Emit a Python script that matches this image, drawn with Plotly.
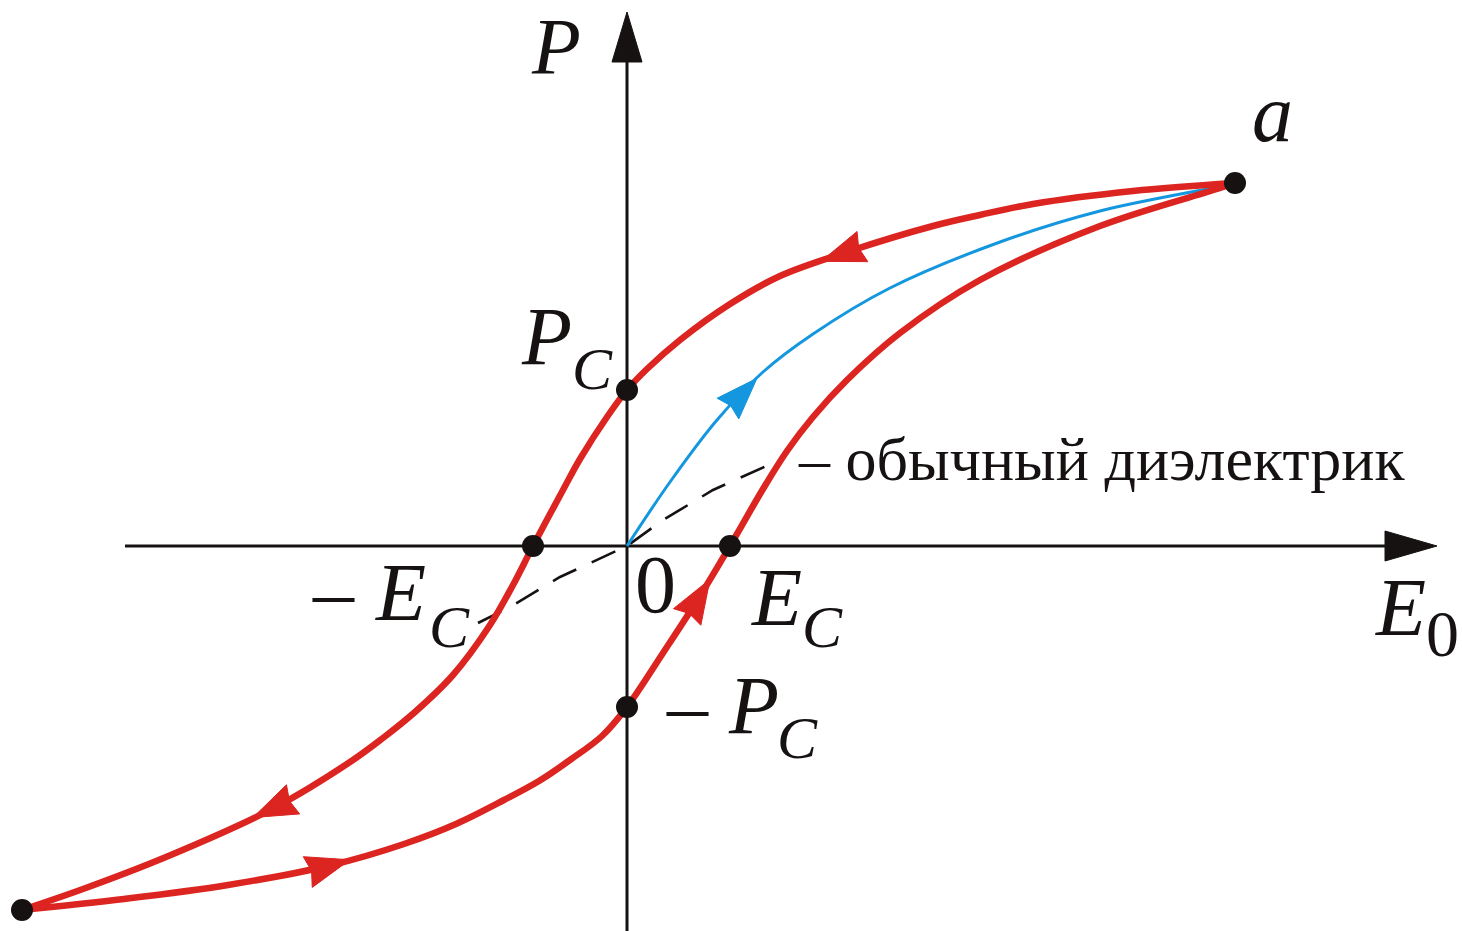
import numpy as np
import plotly.graph_objects as go

# ---------------- data (E and P in arbitrary units) ----------------
# descending branch: from point a down to the lower-left saturation point
E_down = [6.08, 5.06, 4.06, 3.53, 3.06, 2.23, 1.53, 1.03, 0.53, 0.20, 0.00, -0.20, -0.47, -0.64,
          -0.94, -1.14, -1.37, -1.74, -2.12, -2.44, -2.74, -3.53, -4.61, -5.44, -6.05]
P_down = [3.63, 3.55, 3.42, 3.31, 3.20, 2.95, 2.70, 2.42, 2.06, 1.77, 1.56, 1.29, 0.87, 0.56,
          0.00, -0.39, -0.79, -1.29, -1.66, -1.92, -2.14, -2.62, -3.11, -3.43, -3.64]
# ascending branch: from the lower-left point back up to a
E_up = [-6.05, -5.03, -3.99, -2.95, -2.23, -1.71, -1.23, -0.88, -0.57, -0.25, 0.00, 0.36, 0.73,
        1.03, 1.36, 1.60, 1.86, 2.20, 2.73, 3.53, 4.73, 5.90, 6.08]
P_up = [-3.64, -3.53, -3.39, -3.19, -2.98, -2.78, -2.54, -2.35, -2.14, -1.90, -1.61, -1.07, -0.50,
        0.00, 0.57, 0.95, 1.29, 1.66, 2.13, 2.66, 3.20, 3.57, 3.63]
# initial polarisation curve (blue)
E_init = [0.00, 0.43, 0.90, 1.36, 1.86, 2.63, 3.73, 4.73, 5.90, 6.08]
P_init = [0.00, 0.64, 1.26, 1.74, 2.12, 2.58, 3.04, 3.35, 3.59, 3.63]
# ordinary dielectric (dashed)
E_lin = [-1.49, -1.17, -0.67, 0.00, 0.36, 0.86, 1.46]
P_lin = [-0.77, -0.61, -0.31, 0.00, 0.26, 0.56, 0.83]

# marked points: a, lower-left end, Pc, -Pc, Ec, -Ec
pt_E = [6.08, -6.05, 0.00, 0.00, 1.03, -0.94]
pt_P = [3.63, -3.64, 1.56, -1.61, 0.00, 0.00]

# direction arrows: E position of arrow tip on each curve
arrow_down_E = [1.94, -3.74]
arrow_up_E = [-2.77, 0.83]
arrow_init_E = [1.30]

RED = '#dc2420'
BLUE = '#1497de'
BLACK = '#161212'
FONT = 'Liberation Serif'

X_RANGE = [-6.27, 8.35]
Y_RANGE = [-3.85, 5.46]


def curve_P(E, P, e):
    E = np.asarray(E, float)
    P = np.asarray(P, float)
    order = np.argsort(E)
    return float(np.interp(e, E[order], P[order]))


def head_path(tip, back, L, W, notch):
    tx, ty = tip
    bx, by = back
    ux, uy = tx - bx, ty - by
    n = np.hypot(ux, uy)
    ux, uy = ux / n, uy / n
    nx, ny = -uy, ux
    cx, cy = tx - L * ux, ty - L * uy
    c1 = (cx + W / 2 * nx, cy + W / 2 * ny)
    c2 = (cx - W / 2 * nx, cy - W / 2 * ny)
    m = (tx - (L - notch) * ux, ty - (L - notch) * uy)
    return (f"M{tx:.4f},{ty:.4f} L{c1[0]:.4f},{c1[1]:.4f} L{m[0]:.4f},{m[1]:.4f} "
            f"L{c2[0]:.4f},{c2[1]:.4f} Z")


fig = go.Figure()

fig.add_trace(go.Scatter(x=E_lin, y=P_lin, mode='lines',
                         line=dict(color=BLACK, width=2.6, dash='26px,17px'), hoverinfo='skip'))
fig.add_trace(go.Scatter(x=E_init, y=P_init, mode='lines',
                         line=dict(color=BLUE, width=3, shape='spline', smoothing=1.0), hoverinfo='skip'))
fig.add_trace(go.Scatter(x=E_down, y=P_down, mode='lines',
                         line=dict(color=RED, width=6.5, shape='spline', smoothing=1.0), hoverinfo='skip'))
fig.add_trace(go.Scatter(x=E_up, y=P_up, mode='lines',
                         line=dict(color=RED, width=6.5, shape='spline', smoothing=1.0), hoverinfo='skip'))
fig.add_trace(go.Scatter(x=pt_E, y=pt_P, mode='markers',
                         marker=dict(color=BLACK, size=22), hoverinfo='skip'))

shapes = []
# axes
x_tip, y_tip = 8.10, 5.34
shapes.append(dict(type='line', x0=-5.02, y0=0, x1=x_tip - 0.45, y1=0, layer='below',
                   line=dict(color=BLACK, width=3)))
shapes.append(dict(type='line', x0=0, y0=Y_RANGE[0], x1=0, y1=y_tip - 0.45, layer='below',
                   line=dict(color=BLACK, width=3)))
shapes.append(dict(type='path', path=head_path((x_tip, 0), (x_tip - 1, 0), 0.52, 0.30, 0.0),
                   fillcolor=BLACK, line=dict(color=BLACK, width=1), layer='above'))
shapes.append(dict(type='path', path=head_path((0, y_tip), (0, y_tip - 1), 0.50, 0.30, 0.0),
                   fillcolor=BLACK, line=dict(color=BLACK, width=1), layer='above'))

# direction arrowheads along the curves
for E, P, tips, sgn, col, L, W in [(E_down, P_down, arrow_down_E, -1, RED, 0.44, 0.32),
                                   (E_up, P_up, arrow_up_E, 1, RED, 0.44, 0.32),
                                   (E_init, P_init, arrow_init_E, 1, BLUE, 0.42, 0.30)]:
    for e in tips:
        tip = (e, curve_P(E, P, e))
        eb = e - sgn * 0.12
        back = (eb, curve_P(E, P, eb))
        shapes.append(dict(type='path', path=head_path(tip, back, L, W, 0.04),
                           fillcolor=col, line=dict(color=col, width=1), layer='above'))

annotations = []


def label(text, x, y, size, italic=True, xanchor='center'):
    t = f"<i>{text}</i>" if italic else text
    annotations.append(dict(text=t, x=x, y=y, xref='x', yref='y', showarrow=False,
                            xanchor=xanchor, yanchor='middle', borderpad=0, borderwidth=0,
                            font=dict(family=FONT, size=size, color=BLACK)))


MAIN = 82
SUB = 60
label('P', -0.71, 4.99, 80)
label('a', 6.45, 4.33, MAIN)
# P_C
label('P', -0.55, 2.10, MAIN, xanchor='right')
label('C', -0.55, 1.77, SUB, xanchor='left')
# -E_C
label('–', -2.94, -0.45, MAIN, italic=False)
label('E', -2.27, -0.46, MAIN)
label('C', -1.78, -0.81, SUB)
# origin
label('0', 0.28, -0.38, MAIN, italic=False)
# E_C
label('E', 1.49, -0.51, MAIN)
label('C', 1.75, -0.81, SUB, xanchor='left')
# E_0
label('E', 7.73, -0.61, MAIN)
label('0', 7.99, -0.87, 66, italic=False, xanchor='left')
# -P_C
label('–', 0.60, -1.59, MAIN, italic=False)
label('P', 1.52, -1.59, MAIN, xanchor='right')
label('C', 1.50, -1.92, SUB, xanchor='left')
# ordinary dielectric
label('– обычный диэлектрик', 1.71, 0.87, 62, italic=False, xanchor='left')

fig.update_layout(
    width=1462, height=931,
    margin=dict(l=0, r=0, t=0, b=0, pad=0),
    paper_bgcolor='white', plot_bgcolor='white',
    showlegend=False,
    xaxis=dict(range=X_RANGE, visible=False, fixedrange=True),
    yaxis=dict(range=Y_RANGE, visible=False, fixedrange=True),
    shapes=shapes,
    annotations=annotations,
)

fig.write_html("out.html", config={'displayModeBar': False},
               post_script="document.body.style.margin='0';document.body.style.overflow='hidden';")
